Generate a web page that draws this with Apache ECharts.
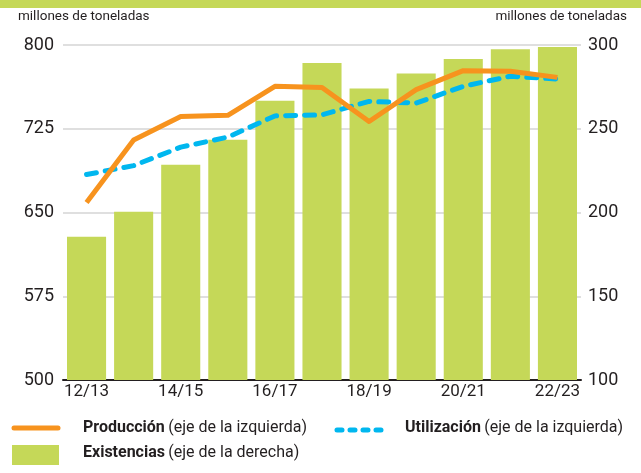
<!DOCTYPE html>
<html>
<head>
<meta charset="utf-8">
<script src="https://cdn.jsdelivr.net/npm/echarts@6/dist/echarts.min.js"></script>
<style>html,body{margin:0;padding:0;background:#fff;}#c{width:641px;height:473px;}</style>
</head>
<body>
<div id="c"></div>
<script>
const categories = ['12/13','13/14','14/15','15/16','16/17','17/18','18/19','19/20','20/21','21/22','22/23'];
const produccion = [659, 715, 736, 737, 763, 762, 731.5, 760, 777, 776.5, 771];
const utilizacion = [684, 692, 708.5, 717.5, 736.5, 737.5, 749.5, 748, 763, 772, 769.5];
const existencias = [185.5, 200.5, 228.5, 243.5, 266.7, 289.2, 274, 283, 291.6, 297.5, 298.8];
const leftTicks = [500, 800, 75];
const rightTicks = [100, 300, 50];

const FONT = 'Roboto';
const chart = echarts.init(document.getElementById('c'), null, {renderer: 'canvas'});
chart.setOption({
  animation: false,
  textStyle: {fontFamily: FONT},
  grid: {left: 63, right: 60, top: 45, bottom: 93, containLabel: false},
  xAxis: {
    type: 'category', data: categories,
    axisLine: {lineStyle: {color: '#231f20', width: 2}},
    axisTick: {show: false},
    axisLabel: {interval: 1, color: '#231f20', fontSize: 17, margin: 3, fontFamily: FONT}
  },
  yAxis: [
    {type: 'value', min: leftTicks[0], max: leftTicks[1], interval: leftTicks[2],
     axisLine: {show: false}, axisTick: {show: false},
     axisLabel: {color: '#231f20', fontSize: 18, margin: 9, fontFamily: FONT},
     splitLine: {lineStyle: {color: '#d4d4d4', width: 1.5}}},
    {type: 'value', min: rightTicks[0], max: rightTicks[1], interval: rightTicks[2],
     axisLine: {show: false}, axisTick: {show: false},
     axisLabel: {color: '#231f20', fontSize: 18, margin: 7, fontFamily: FONT},
     splitLine: {show: false}}
  ],
  series: [
    {name: 'Existencias', type: 'bar', yAxisIndex: 1, data: existencias,
     barCategoryGap: '17%', itemStyle: {color: '#c5d858'}, z: 1},
    {name: 'Utilización', type: 'line', yAxisIndex: 0, data: utilizacion,
     symbol: 'none', z: 3,
     lineStyle: {color: '#00b7ef', width: 5, type: [10, 9], cap: 'round', join: 'round'}},
    {name: 'Producción', type: 'line', yAxisIndex: 0, data: produccion,
     symbol: 'none', z: 4,
     lineStyle: {color: '#f7931e', width: 5, cap: 'butt', join: 'round'}}
  ],
  graphic: [
    {type: 'rect', left: 0, top: 0, shape: {width: 641, height: 8}, style: {fill: '#c5d858'}},
    {type: 'text', left: 18, top: 10, style: {text: 'millones de toneladas', font: '13.5px ' + FONT, fill: '#231f20'}},
    {type: 'text', right: 14, top: 10, style: {text: 'millones de toneladas', font: '13.5px ' + FONT, fill: '#231f20'}},
    {type: 'line', shape: {x1: 14, y1: 428, x2: 58, y2: 428}, style: {stroke: '#f7931e', lineWidth: 5, lineCap: 'round'}},
    {type: 'text', left: 83, top: 420, style: {
      text: '{b|Producción} {n|(eje de la izquierda)}',
      rich: {b: {font: 'bold 16px ' + FONT, fill: '#231f20'}, n: {font: '16px ' + FONT, fill: '#231f20'}}}},
    {type: 'line', shape: {x1: 337, y1: 430, x2: 386, y2: 430}, style: {stroke: '#00b7ef', lineWidth: 5, lineCap: 'round', lineDash: [5, 8]}},
    {type: 'text', left: 405, top: 420, style: {
      text: '{b|Utilización} {n|(eje de la izquierda)}',
      rich: {b: {font: 'bold 16px ' + FONT, fill: '#231f20'}, n: {font: '16px ' + FONT, fill: '#231f20'}}}},
    {type: 'rect', left: 12, top: 445, shape: {width: 47, height: 20}, style: {fill: '#c5d858'}},
    {type: 'text', left: 83, top: 445, style: {
      text: '{b|Existencias} {n|(eje de la derecha)}',
      rich: {b: {font: 'bold 16px ' + FONT, fill: '#231f20'}, n: {font: '16px ' + FONT, fill: '#231f20'}}}}
  ]
});
</script>
</body>
</html>
